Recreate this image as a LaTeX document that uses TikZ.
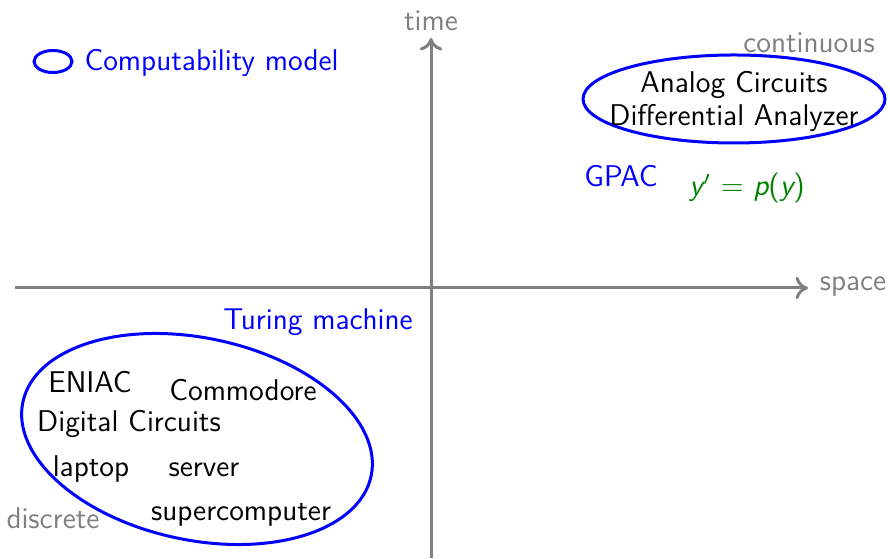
\documentclass[tikz,border=0pt]{standalone}
\usetikzlibrary{arrows.meta}
\begin{document}
\begin{tikzpicture}[x=0.4pt,y=0.4pt,
  txt/.style={font=\sffamily\large, inner sep=0pt, yshift=-1pt},
  axis/.style={draw=gray, line width=1.2pt, -{To[length=5pt,width=9pt]}},
  axislabel/.style={txt, text=gray},
  modelline/.style={draw=blue, line width=1.2pt},
  modeltext/.style={txt, text=blue},
  item/.style={txt, text=black}]
\useasboundingbox (0,0) rectangle (890,558);
% axes
\coordinate (xs) at (15,270);
\coordinate (xe) at (808,270);
\coordinate (ys) at (431,0);
\coordinate (ye) at (431,520);
\draw[axis] (xs) -- (xe);
\draw[axis] (ys) -- (ye);
\node[axislabel] (time) at (431,540) {time};
\node[axislabel] (space) at (853,274) {space};
\node[axislabel] (cont) at (809,518) {continuous};
\node[axislabel] (disc) at (53,42) {discrete};
% legend
\draw[modelline] (53,496.5) ellipse [x radius=19, y radius=11];
\node[modeltext, anchor=west] (legend) at (84,498) {Computability model};
% continuous
\draw[modelline] (734,459) ellipse [x radius=151, y radius=44];
\node[item, align=center] (analog) at (734,459) {Analog Circuits\\[-1pt]Differential Analyzer};
\node[modeltext] (gpac) at (621,384) {GPAC};
\node[txt, text=green!50!black] (ode) at (747,372) {{\itshape y}\kern0.5pt$'$ = {\itshape p}({\itshape y})};
% discrete
\node[modeltext] (tm) at (318,238) {Turing machine};
\draw[modelline, rotate around={-12:(197,119)}] (197,119) ellipse [x radius=178, y radius=101];
\node[item] (eniac) at (90,178) {ENIAC};
\node[item] (commodore) at (243,170) {Commodore};
\node[item] (digital) at (129,136) {Digital Circuits};
\node[item] (laptop) at (91,91) {laptop};
\node[item] (server) at (204,91) {server};
\node[item] (super) at (241,46) {supercomputer};
\end{tikzpicture}
\end{document}
